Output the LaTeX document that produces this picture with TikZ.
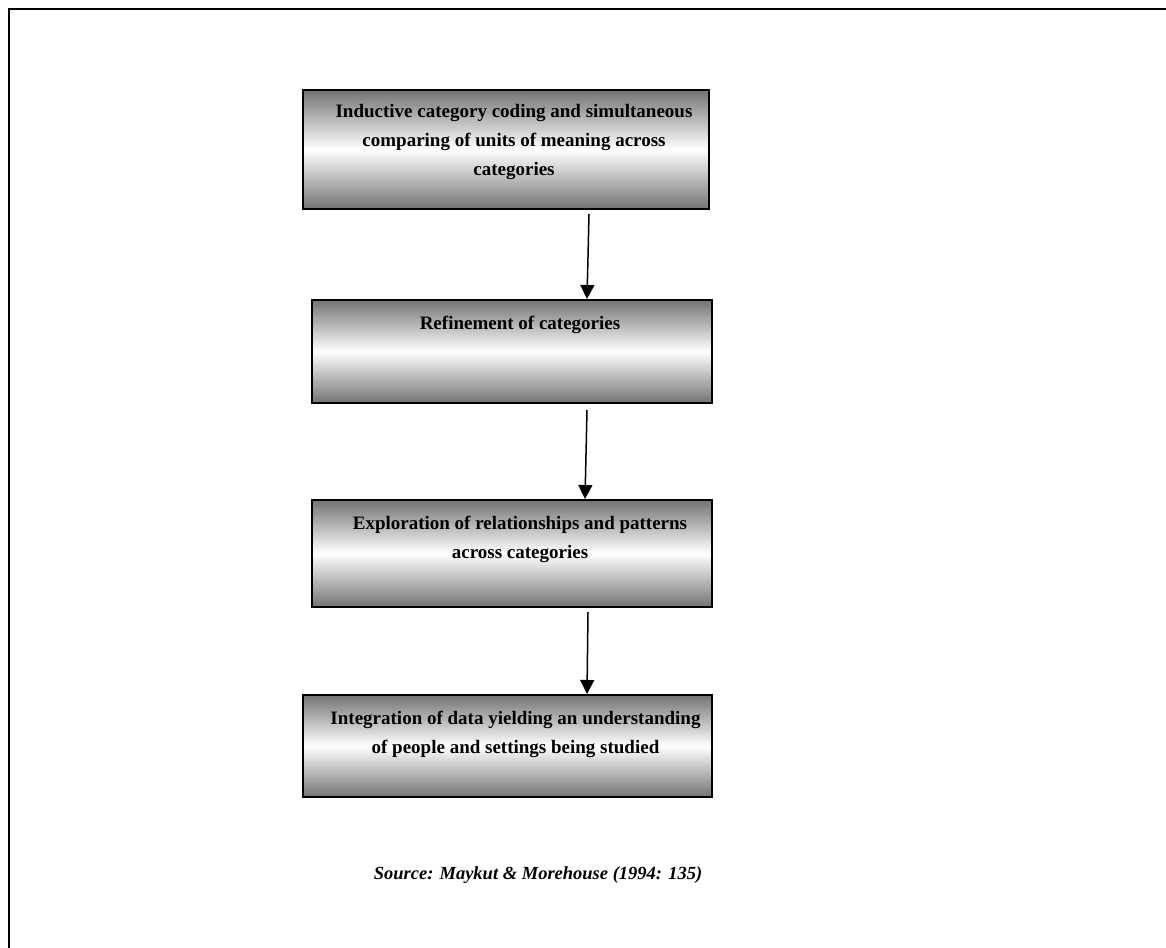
\documentclass[tikz,border=0pt]{standalone}
\usepackage{fontspec}
\setmainfont{Liberation Serif}
\usetikzlibrary{arrows.meta}
\definecolor{shadegray}{RGB}{115,115,115}
\begin{document}
\begin{tikzpicture}[x=1pt,y=-1pt,
  stepbox/.style={rectangle, draw=black, line width=2pt, inner sep=0pt,
    top color=shadegray, bottom color=shadegray, middle color=white},
  lbl/.style={align=center, inner sep=0pt,
    font=\fontsize{19}{29}\selectfont\bfseries},
  src/.style={inner sep=0pt, font=\fontsize{18.5}{22}\selectfont\bfseries\itshape},
  arr/.style={line width=1.5pt, -{Triangle[length=14pt,width=14pt]}}]
\useasboundingbox (0,0) rectangle (1166,947);
\clip (0,0) rectangle (1166,947);
% page frame
\draw[line width=2pt, line join=miter] (9,960) -- (9,9) -- (1180,9);

% process boxes
\node[stepbox, anchor=north west, minimum width=406pt, minimum height=119pt] (b1) at (302,89) {};
\node[stepbox, anchor=north west, minimum width=400pt, minimum height=103pt] (b2) at (311,299) {};
\node[stepbox, anchor=north west, minimum width=400pt, minimum height=107pt] (b3) at (311,499) {};
\node[stepbox, anchor=north west, minimum width=409pt, minimum height=102pt] (b4) at (302,694) {};

% box texts
\node[lbl, anchor=north] (t1) at ([xshift=8pt,yshift=-8pt]b1.north)
  {\strut Inductive category coding and simultaneous\\comparing of units of meaning across\\categories};
\node[lbl, anchor=north] (t2) at ([xshift=8pt,yshift=-9.7pt]b2.north)
  {\strut Refinement of categories};
\node[lbl, anchor=north] (t3) at ([xshift=8pt,yshift=-9.7pt]b3.north)
  {\strut Exploration of relationships and patterns\\across categories};
\node[lbl, anchor=north] (t4) at ([xshift=8pt,yshift=-9.7pt]b4.north)
  {\strut Integration of data yielding an understanding\\of people and settings being studied};

% connectors
\draw[arr] ([xshift=83pt,yshift=-4pt]b1.south) -- ([xshift=75pt]b2.north);
\draw[arr] ([xshift=75pt,yshift=-6pt]b2.south) -- ([xshift=73pt]b3.north);
\draw[arr] ([xshift=76pt,yshift=-4pt]b3.south) -- ([xshift=79.5pt]b4.north);

% source line
\node[src, anchor=base] (s) at (538,879) {Source: Maykut \& Morehouse (1994: 135)};
\end{tikzpicture}
\end{document}
